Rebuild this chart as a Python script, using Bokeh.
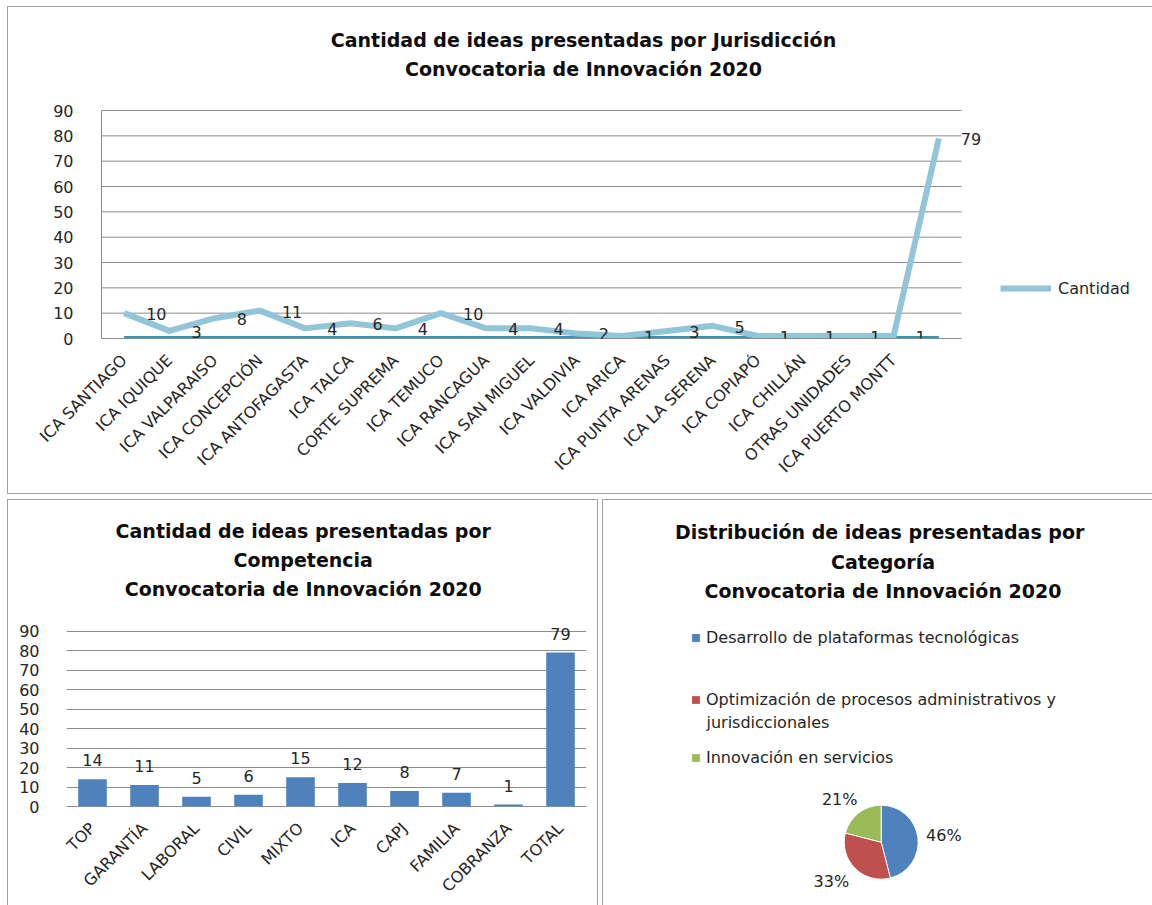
import numpy as np
from math import pi
from bokeh.plotting import figure
from bokeh.models import (ColumnDataSource, Range1d, LabelSet, Label,
                          Legend, LegendItem, FixedTicker)
from bokeh.layouts import column, row
from bokeh.embed import file_html
from bokeh.resources import INLINE
from bokeh.core.properties import value

# ---------------- data ----------------
jurisdicciones = ["ICA SANTIAGO", "ICA IQUIQUE", "ICA VALPARAISO", "ICA CONCEPCIÓN",
                  "ICA ANTOFAGASTA", "ICA TALCA", "CORTE SUPREMA", "ICA TEMUCO",
                  "ICA RANCAGUA", "ICA SAN MIGUEL", "ICA VALDIVIA", "ICA ARICA",
                  "ICA PUNTA ARENAS", "ICA LA SERENA", "ICA COPIAPÓ", "ICA CHILLÁN",
                  "OTRAS UNIDADES", "ICA PUERTO MONTT", ""]
cantidad = [10, 3, 8, 11, 4, 6, 4, 10, 4, 4, 2, 1, 3, 5, 1, 1, 1, 1, 79]
serie_base = [0, 0, 0, 0, 0, 0, 0, 0, 0, 0, 0, 0, 0, 0, 0, 0, 0, 0, 0]

competencias = ["TOP", "GARANTÍA", "LABORAL", "CIVIL", "MIXTO", "ICA", "CAPJ",
                "FAMILIA", "COBRANZA", "TOTAL"]
ideas_competencia = [14, 11, 5, 6, 15, 12, 8, 7, 1, 79]

categorias = ["Desarrollo de plataformas tecnológicas",
              "Optimización de procesos administrativos y",
              "Innovación en servicios"]
categoria_2_linea2 = "jurisdiccionales"
porcentajes = [46, 33, 21]

y_ticks = [0, 10, 20, 30, 40, 50, 60, 70, 80, 90]

# ---------------- style ----------------
FONT = "DejaVu Sans"
TXT = "#262626"
GRID = "#8c8c8c"
PANEL = "#a0a0a0"
LIGHT = "#93c5d8"
DARK = "#3f92aa"
BLUE = "#4f81bd"
RED = "#c0504d"
GREEN = "#9bbb59"


def base_fig(**kw):
    p = figure(output_backend="svg", toolbar_location=None, **kw)
    p.title.visible = False
    p.outline_line_color = None
    p.border_fill_color = None
    p.background_fill_color = None
    return p


def style_axes(p, xsize, ysize, standoff_x, standoff_y):
    p.xaxis.major_label_orientation = pi / 4
    for ax in (p.xaxis, p.yaxis):
        ax.major_tick_line_color = None
        ax.minor_tick_line_color = None
        ax.major_label_text_font = FONT
        ax.major_label_text_color = TXT
    p.xaxis.major_label_text_font_size = xsize
    p.yaxis.major_label_text_font_size = ysize
    p.xaxis.major_label_standoff = standoff_x
    p.yaxis.major_label_standoff = standoff_y
    p.yaxis.ticker = FixedTicker(ticks=y_ticks)
    p.ygrid.ticker = p.yaxis.ticker
    p.xgrid.grid_line_color = None
    p.xaxis.axis_line_color = GRID


def title_lines(p, lines, x, ys, size="19px"):
    for t, y in zip(lines, ys):
        p.add_layout(Label(x=x, y=y, x_units="screen", y_units="screen", text=t,
                           text_align="center", text_baseline="middle",
                           text_font=FONT, text_font_style="bold",
                           text_font_size=size, text_color="#0d0d0d"))


# ---------------- top: line chart ----------------
W1, H1, L1, B1 = 1145, 488, 94, 156
CAT_PX, Y90_PX = 860, 228          # plot-area width of the categories, height of 0..90
n1 = len(jurisdicciones)
x_end1 = (W1 - L1) * n1 / CAT_PX
y_end1 = (H1 - B1) * 90 / Y90_PX
p1 = base_fig(width=W1, height=H1, x_range=Range1d(0, x_end1), y_range=Range1d(0, y_end1),
              min_border_left=L1, min_border_right=0, min_border_top=0, min_border_bottom=B1)
style_axes(p1, "16px", "16px", 13, 22)
p1.ygrid.grid_line_color = None
xpos1 = [i + 0.5 for i in range(n1)]
p1.xaxis.ticker = FixedTicker(ticks=xpos1)
p1.xaxis.major_label_overrides = {x: lab for x, lab in zip(xpos1, jurisdicciones)}
p1.xaxis.bounds = (0, n1)
p1.yaxis.bounds = (0, 90)
p1.yaxis.axis_line_color = GRID
p1.styles = {"box-shadow": f"inset 1px 1px 0 0 {PANEL}, inset 0 -1px 0 0 {PANEL}"}

p1.segment(x0=0, x1=n1, y0=y_ticks[1:], y1=y_ticks[1:], line_color=GRID, line_width=1)
src1 = ColumnDataSource(dict(x=xpos1, y=cantidad, base=serie_base,
                             lbl=[str(v) for v in cantidad]))
p1.line("x", "base", source=src1, line_color=DARK, line_width=5)
r_cant = p1.line("x", "y", source=src1, line_color=LIGHT, line_width=6, line_join="round")
p1.add_layout(LabelSet(x="x", y="y", text="lbl", source=src1, x_offset=22, y_offset=-1,
                       text_align="left", text_baseline="middle", text_font=value(FONT),
                       text_font_size="16px", text_color=TXT))
leg1 = Legend(items=[LegendItem(label="Cantidad", renderers=[r_cant])], location=(899, 40),
              border_line_color=None, background_fill_alpha=0, padding=0, margin=0,
              glyph_width=51, glyph_height=20, label_height=20, label_standoff=7,
              label_text_font=FONT, label_text_font_size="16px", label_text_color=TXT)
p1.add_layout(leg1)
title_lines(p1, ["Cantidad de ideas presentadas por Jurisdicción",
                 "Convocatoria de Innovación 2020"], 482, [299, 270])

# ---------------- bottom-left: bar chart ----------------
W2, H2, L2, R2, B2 = 591, 406, 59, 12, 98
y_end2 = (H2 - B2) * 90 / 176
p2 = base_fig(width=W2, height=H2, x_range=competencias, y_range=Range1d(0, y_end2),
              min_border_left=L2, min_border_right=R2, min_border_top=0, min_border_bottom=B2)
style_axes(p2, "16px", "16px", 13, 21)
p2.ygrid.grid_line_color = GRID
p2.yaxis.axis_line_color = None
p2.styles = {"box-shadow": f"inset 1px 1px 0 0 {PANEL}, inset -1px 0 0 0 {PANEL}"}
src2 = ColumnDataSource(dict(x=competencias, y=ideas_competencia,
                             lbl=[str(v) for v in ideas_competencia]))
p2.vbar(x="x", top="y", width=0.55, source=src2, fill_color=BLUE, line_color=None)
p2.add_layout(LabelSet(x="x", y="y", text="lbl", source=src2, y_offset=19,
                       text_align="center", text_baseline="middle", text_font=value(FONT),
                       text_font_size="16px", text_color=TXT))
title_lines(p2, ["Cantidad de ideas presentadas por", "Competencia",
                 "Convocatoria de Innovación 2020"], 236.7, [276, 246.5, 217.5])

# ---------------- bottom-right: pie chart ----------------
W3, H3 = 550, 406
p3 = base_fig(width=W3, height=H3, x_range=Range1d(0, W3), y_range=Range1d(0, H3),
              min_border=0, min_border_left=0, min_border_right=0, min_border_top=0,
              min_border_bottom=0, x_axis_location=None, y_axis_location=None)
p3.grid.grid_line_color = None
p3.styles = {"box-shadow": f"inset 1px 1px 0 0 {PANEL}"}

cx, cy, R = 278.7, 63.3, 37
frac = np.array(porcentajes, dtype=float) / sum(porcentajes)
cum = np.concatenate([[0.0], np.cumsum(frac)]) * 2 * pi     # clockwise from 12 o'clock
start = pi / 2 - cum[1:]
end = pi / 2 - cum[:-1]
mid = (cum[:-1] + cum[1:]) / 2
dx, dy = np.sin(mid), np.cos(mid)
m = np.maximum(np.abs(dx), np.abs(dy))
lx = cx + (R + 8) * dx + 18 * dx / m
ly = cy + (R + 8) * dy + 7.5 * dy / m
src3 = ColumnDataSource(dict(start=start, end=end, color=[BLUE, RED, GREEN],
                             lx=lx, ly=ly, lbl=[f"{v}%" for v in porcentajes]))
w = p3.wedge(x=cx, y=cy, radius=R, start_angle="start", end_angle="end",
             fill_color="color", line_color="white", line_width=1, source=src3)
p3.add_layout(LabelSet(x="lx", y="ly", text="lbl", source=src3, text_align="center",
                       text_baseline="middle", text_font=value(FONT), text_font_size="16px",
                       text_color=TXT))
for i, (lab, ypos) in enumerate(zip(categorias, [257.3, 196, 137.3])):
    lg = Legend(items=[LegendItem(label=lab, renderers=[w], index=i)], location=(88, ypos),
                border_line_color=None, background_fill_alpha=0, padding=0, margin=0,
                glyph_width=11, glyph_height=11, label_height=20, label_standoff=5,
                label_text_font=FONT, label_text_font_size="16px", label_text_color=TXT)
    p3.add_layout(lg)
p3.add_layout(Label(x=104, y=183.3, x_units="screen", y_units="screen", text=categoria_2_linea2,
                    text_align="left", text_baseline="middle", text_font=FONT,
                    text_font_size="16px", text_color=TXT))
title_lines(p3, ["Distribución  de ideas presentadas por", "Categoría",
                 "Convocatoria de Innovación 2020"], 280.5, [373.3, 344, 315])

layout = column(p1, row(column(p2), column(p3), spacing=4), spacing=5, margin=(6, 0, 0, 7))
open("out.html", "w").write(file_html(layout, INLINE))
